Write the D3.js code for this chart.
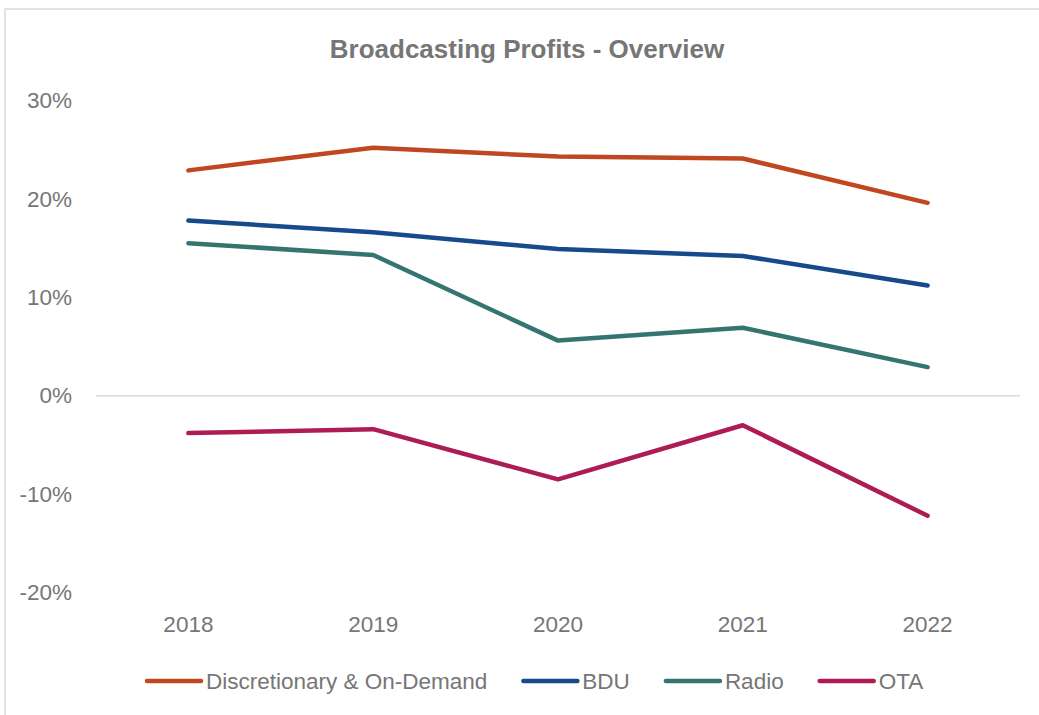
<!DOCTYPE html>
<html>
<head>
<meta charset="utf-8">
<script src="https://cdn.jsdelivr.net/npm/d3@7"></script>
<style>
  body { margin: 0; background: #fff; }
  text { font-family: "Liberation Sans", Arial, sans-serif; fill: #767676; }
</style>
</head>
<body>
<div id="chart"></div>
<script>
// Chart data
var years = ["2018", "2019", "2020", "2021", "2022"];
var discretionary = [0.229, 0.252, 0.243, 0.241, 0.196];
var bdu = [0.178, 0.166, 0.149, 0.142, 0.112];
var radio = [0.155, 0.143, 0.056, 0.069, 0.029];
var ota = [-0.038, -0.034, -0.085, -0.030, -0.122];
var seriesNames = ["Discretionary & On-Demand", "BDU", "Radio", "OTA"];
var yTicks = [-0.2, -0.1, 0, 0.1, 0.2, 0.3];

var seriesValues = [discretionary, bdu, radio, ota];
var colors = ["#c0471f", "#174a8b", "#357571", "#ad1c54"];

var w = 1039, h = 715;

var svg = d3.select("#chart").append("svg")
  .attr("width", w)
  .attr("height", h);

// chart area border (cropped on the right and bottom)
svg.append("rect")
  .attr("x", 5).attr("y", 9)
  .attr("width", 1200).attr("height", 900)
  .attr("fill", "none")
  .attr("stroke", "#d9d9d9")
  .attr("stroke-width", 1.5);

var xScale = d3.scaleBand()
  .domain(years)
  .range([96, 1020]);

var yScale = d3.scaleLinear()
  .domain([-0.2, 0.3])
  .range([592.5, 100.5]);

// title
svg.append("text")
  .attr("x", 527).attr("y", 58)
  .attr("text-anchor", "middle")
  .style("font-size", "26px")
  .style("font-weight", "bold")
  .text("Broadcasting Profits - Overview");

// zero line
svg.append("line")
  .attr("x1", 96).attr("x2", 1020)
  .attr("y1", yScale(0)).attr("y2", yScale(0))
  .attr("stroke", "#d9d9d9")
  .attr("stroke-width", 1.5);

// y axis labels (plain hyphen for negatives, like the original)
var yAxis = d3.axisLeft(yScale)
  .tickValues(yTicks)
  .tickFormat(function (d) { return Math.round(d * 100) + "%"; })
  .tickSize(0)
  .tickPadding(0);

var gy = svg.append("g")
  .attr("transform", "translate(72,0)")
  .call(yAxis);
gy.select(".domain").remove();
gy.selectAll("text")
  .style("font-size", "22.5px")
  .attr("fill", "#767676")
  .style("font-family", "'Liberation Sans', Arial, sans-serif");

// x axis labels
var xAxis = d3.axisBottom(xScale)
  .tickSize(0)
  .tickPadding(0);

var gx = svg.append("g")
  .attr("transform", "translate(0,616)")
  .call(xAxis);
gx.select(".domain").remove();
gx.selectAll("text")
  .style("font-size", "22.5px")
  .attr("fill", "#767676")
  .style("font-family", "'Liberation Sans', Arial, sans-serif");

// lines
var line = d3.line()
  .x(function (d, i) { return xScale(years[i]) + xScale.bandwidth() / 2; })
  .y(function (d) { return yScale(d); });

svg.selectAll("path.series")
  .data(seriesValues)
  .enter()
  .append("path")
  .attr("class", "series")
  .attr("d", line)
  .attr("fill", "none")
  .attr("stroke", function (d, i) { return colors[i]; })
  .attr("stroke-width", 4.5)
  .attr("stroke-linecap", "round")
  .attr("stroke-linejoin", "round");

// legend
var legend = svg.append("g").attr("class", "legend");
var lx = 145, ly = 681;
seriesNames.forEach(function (name, i) {
  var g = legend.append("g");
  g.append("line")
    .attr("x1", lx + 2).attr("x2", lx + 56)
    .attr("y1", ly).attr("y2", ly)
    .attr("stroke", colors[i])
    .attr("stroke-width", 4.5)
    .attr("stroke-linecap", "round");
  var t = g.append("text")
    .attr("x", lx + 61)
    .attr("y", ly + 8)
    .style("font-size", "22.5px")
    .text(name);
  lx = lx + 61 + t.node().getComputedTextLength() + 34;
});
</script>
</body>
</html>
